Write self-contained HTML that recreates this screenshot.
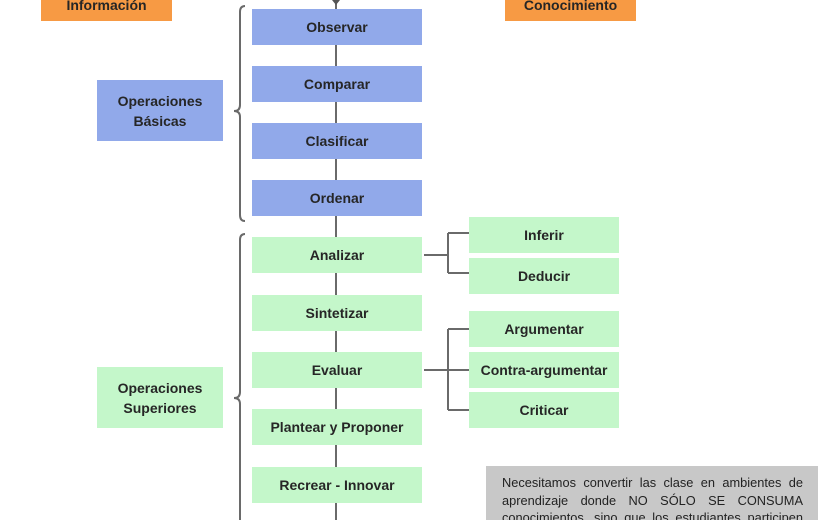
<!DOCTYPE html>
<html><head><meta charset="utf-8"><style>
body{margin:0;width:840px;height:520px;overflow:hidden;background:#fff;position:relative;font-family:"Liberation Sans",sans-serif;}
.b{position:absolute;display:flex;align-items:center;justify-content:center;text-align:center;font-weight:bold;font-size:14px;color:#262626;line-height:20px;box-sizing:border-box;}
.bl{background:#91a9ea;}
.gr{background:#c4f7ca;}
.or{background:#f79a44;}
.note{position:absolute;left:486px;top:466px;width:332px;height:54px;overflow:hidden;background:#c8c8c8;box-sizing:border-box;padding:8px 15px 0 16px;font-size:12.8px;line-height:17.5px;color:#222;text-align:justify;}
svg{position:absolute;left:0;top:0;}
</style></head><body>
<svg width="840" height="520">
<g stroke="#6a6a6a" stroke-width="2" fill="none">
<line x1="336" y1="0" x2="336" y2="520"/>
<path d="M424 255 H448 M448 233 V273 M448 233 H469 M448 273 H469"/>
<path d="M424 370 H469 M448 329 V410 M448 329 H469 M448 410 H469"/>
<path d="M245 6 Q240 6 240 12 V105 Q240 111 234 111 Q240 111 240 117 V215 Q240 221 245 221"/>
<path d="M245 234 Q240 234 240 240 V392 Q240 398 234 398 Q240 398 240 404 V520"/>
</g>
<path d="M332 0 L340 0 L336 5 Z" fill="#555"/>
</svg>
<div class="b or" style="left:41px;top:-12px;width:131px;height:33px">Información</div>
<div class="b or" style="left:505px;top:-12px;width:131px;height:33px">Conocimiento</div>
<div class="b bl" style="left:97px;top:80px;width:126px;height:61px">Operaciones<br>Básicas</div>
<div class="b gr" style="left:97px;top:367px;width:126px;height:61px">Operaciones<br>Superiores</div>
<div class="b bl" style="left:252px;top:9px;width:170px;height:36px">Observar</div>
<div class="b bl" style="left:252px;top:66px;width:170px;height:36px">Comparar</div>
<div class="b bl" style="left:252px;top:123px;width:170px;height:36px">Clasificar</div>
<div class="b bl" style="left:252px;top:180px;width:170px;height:36px">Ordenar</div>
<div class="b gr" style="left:252px;top:237px;width:170px;height:36px">Analizar</div>
<div class="b gr" style="left:252px;top:295px;width:170px;height:36px">Sintetizar</div>
<div class="b gr" style="left:252px;top:352px;width:170px;height:36px">Evaluar</div>
<div class="b gr" style="left:252px;top:409px;width:170px;height:36px">Plantear y Proponer</div>
<div class="b gr" style="left:252px;top:467px;width:170px;height:36px">Recrear - Innovar</div>
<div class="b gr" style="left:469px;top:217px;width:150px;height:36px">Inferir</div>
<div class="b gr" style="left:469px;top:258px;width:150px;height:36px">Deducir</div>
<div class="b gr" style="left:469px;top:311px;width:150px;height:36px">Argumentar</div>
<div class="b gr" style="left:469px;top:352px;width:150px;height:36px">Contra-argumentar</div>
<div class="b gr" style="left:469px;top:392px;width:150px;height:36px">Criticar</div>
<div class="note">Necesitamos convertir las clase en ambientes de aprendizaje donde NO SÓLO SE CONSUMA conocimientos, sino que los estudiantes participen en</div>
</body></html>
